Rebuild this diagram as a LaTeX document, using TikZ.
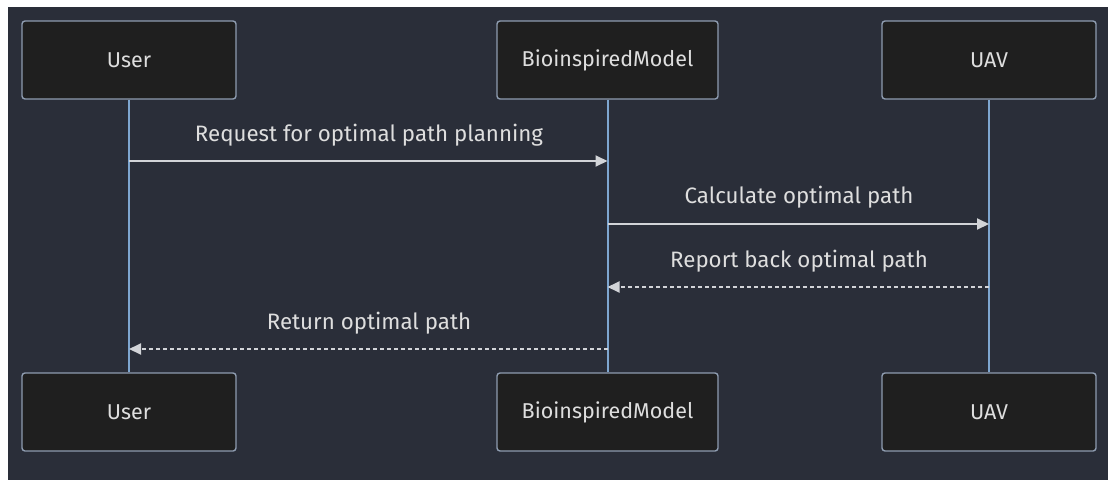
\documentclass[tikz,border=0pt]{standalone}
\usepackage{fontspec}
\setmainfont{Fira Sans}
\usetikzlibrary{arrows.meta}
\definecolor{canvas}{HTML}{2A2E39}
\definecolor{actorfill}{HTML}{1F1F1F}
\definecolor{actorline}{HTML}{8E9CB0}
\definecolor{lifeline}{HTML}{7EA6D0}
\definecolor{msgline}{HTML}{D2D4D8}
\definecolor{msgtext}{HTML}{DEDEDE}
\tikzset{
  actor/.style={draw=actorline, line width=1.4pt, fill=actorfill, rounded corners=3pt,
    minimum width=214pt, minimum height=78pt, inner sep=0pt,
    text=msgtext, font=\fontsize{21.5}{23}\selectfont},
  life/.style={draw=lifeline, line width=2pt},
  msg/.style={draw=msgline, line width=1.9pt, -{Triangle[length=12pt,width=11pt]}},
  reply/.style={msg, dash pattern=on 4pt off 3pt},
  msglabel/.style={text=msgtext, font=\fontsize{22.3}{24}\selectfont, inner sep=0pt}
}
\begin{document}
\begin{tikzpicture}[x=1pt,y=-1pt]
  % page and canvas
  \fill[white] (0,0) rectangle (1108,480);
  \fill[canvas] (8,7) rectangle (1108,480);
  \useasboundingbox (0,0) rectangle (1108,480);

  % participants, top and bottom
  \node[actor] (uTop) at (129,60) {User};
  \node[actor, minimum width=221pt] (bTop) at (607.5,60) {BioinspiredModel};
  \node[actor] (vTop) at (989,60) {UAV};
  \node[actor] (uBot) at (129,412) {User};
  \node[actor, minimum width=221pt] (bBot) at (607.5,412) {BioinspiredModel};
  \node[actor] (vBot) at (989,412) {UAV};

  % lifelines
  \draw[life] (uTop.south) -- (uBot.north);
  \draw[life] (bTop.south) -- (bBot.north);
  \draw[life] (vTop.south) -- (vBot.north);

  % message anchor points on the lifelines
  \coordinate (u1) at (129,161);
  \coordinate (b1) at (607.5,161);
  \coordinate (b2) at (607.5,224);
  \coordinate (v2) at (989,224);
  \coordinate (v3) at (989,287);
  \coordinate (b3) at (607.5,287);
  \coordinate (b4) at (607.5,349);
  \coordinate (u4) at (129,349);

  % messages
  \draw[msg] (u1) -- (b1);
  \node[msglabel] (m1) at (369,135) {Request for optimal path planning};
  \draw[msg] (b2) -- (v2);
  \node[msglabel] (m2) at (799,197) {Calculate optimal path};
  \draw[reply] (v3) -- (b3);
  \node[msglabel] (m3) at (799,261) {Report back optimal path};
  \draw[reply] (b4) -- (u4);
  \node[msglabel] (m4) at (369,323) {Return optimal path};
\end{tikzpicture}
\end{document}
